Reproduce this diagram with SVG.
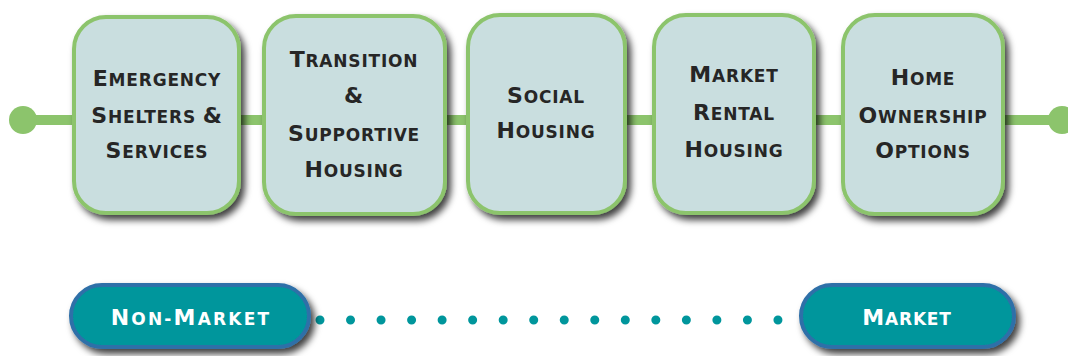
<svg xmlns="http://www.w3.org/2000/svg" width="1068" height="356" viewBox="0 0 1068 356">
<defs>
<filter id="sh" x="-20%" y="-20%" width="150%" height="150%">
<feDropShadow dx="4" dy="5" stdDeviation="3.5" flood-color="#000" flood-opacity="0.75"/>
</filter>
<style>
.box{fill:#c9dedf;stroke:#8cc46c;stroke-width:4;filter:url(#sh)}
.pill{fill:#00969c;stroke:#2f6fa8;stroke-width:4;filter:url(#sh)}
.t,.w{font-family:"DejaVu Sans","Liberation Sans",sans-serif;font-weight:bold;font-size:17px;letter-spacing:0.8px;text-transform:uppercase;text-anchor:middle}
.t{fill:#262626}
.w{fill:#ffffff}
.wide{letter-spacing:2.2px}
.c{font-size:22px}
.ln{stroke:#8cc46c;stroke-width:10;fill:none}
.dot{fill:#8cc46c}
.dl{stroke:#00969c;stroke-width:9;stroke-linecap:round;stroke-dasharray:0 30.53;fill:none}
</style>
</defs>
<rect width="1068" height="356" fill="#ffffff"/>
<g id="connectors">
<line class="ln" x1="23" y1="120" x2="1062" y2="120"/>
<circle class="dot" cx="23" cy="120" r="14"/>
<circle class="dot" cx="1062" cy="120" r="14"/>
<line class="dl" x1="320" y1="320" x2="779" y2="320"/>
</g>
<g id="n1">
<rect class="box" x="74" y="17" width="165" height="196" rx="32"/>
<text class="t" x="157" y="86"><tspan class="c">E</tspan>mergency</text>
<text class="t" x="157" y="123"><tspan class="c">S</tspan>helters <tspan class="c">&amp;</tspan></text>
<text class="t" x="157" y="158"><tspan class="c">S</tspan>ervices</text>
</g>
<g id="n2">
<rect class="box" x="264" y="16" width="181" height="198" rx="32"/>
<text class="t" x="354" y="67"><tspan class="c">T</tspan>ransition</text>
<text class="t" x="354" y="103"><tspan class="c">&amp;</tspan></text>
<text class="t" x="354" y="141"><tspan class="c">S</tspan>upportive</text>
<text class="t" x="354" y="177"><tspan class="c">H</tspan>ousing</text>
</g>
<g id="n3">
<rect class="box" x="468" y="15" width="157" height="198" rx="32"/>
<text class="t" x="546" y="103"><tspan class="c">S</tspan>ocial</text>
<text class="t" x="546" y="138"><tspan class="c">H</tspan>ousing</text>
</g>
<g id="n4">
<rect class="box" x="654" y="15" width="160" height="198" rx="32"/>
<text class="t" x="734" y="82"><tspan class="c">M</tspan>arket</text>
<text class="t" x="734" y="120"><tspan class="c">R</tspan>ental</text>
<text class="t" x="734" y="157"><tspan class="c">H</tspan>ousing</text>
</g>
<g id="n5">
<rect class="box" x="843" y="15" width="160" height="199" rx="32"/>
<text class="t" x="923" y="85"><tspan class="c">H</tspan>ome</text>
<text class="t" x="923" y="123"><tspan class="c">O</tspan>wnership</text>
<text class="t" x="923" y="158"><tspan class="c">O</tspan>ptions</text>
</g>
<g id="n6">
<rect class="pill" x="71" y="285" width="238" height="62" rx="31"/>
<text class="w wide" x="191" y="325"><tspan class="c">N</tspan>on-<tspan class="c">M</tspan>arket</text>
</g>
<g id="n7">
<rect class="pill" x="801" y="285" width="213" height="62" rx="31"/>
<text class="w" x="907" y="325"><tspan class="c">M</tspan>arket</text>
</g>
</svg>
